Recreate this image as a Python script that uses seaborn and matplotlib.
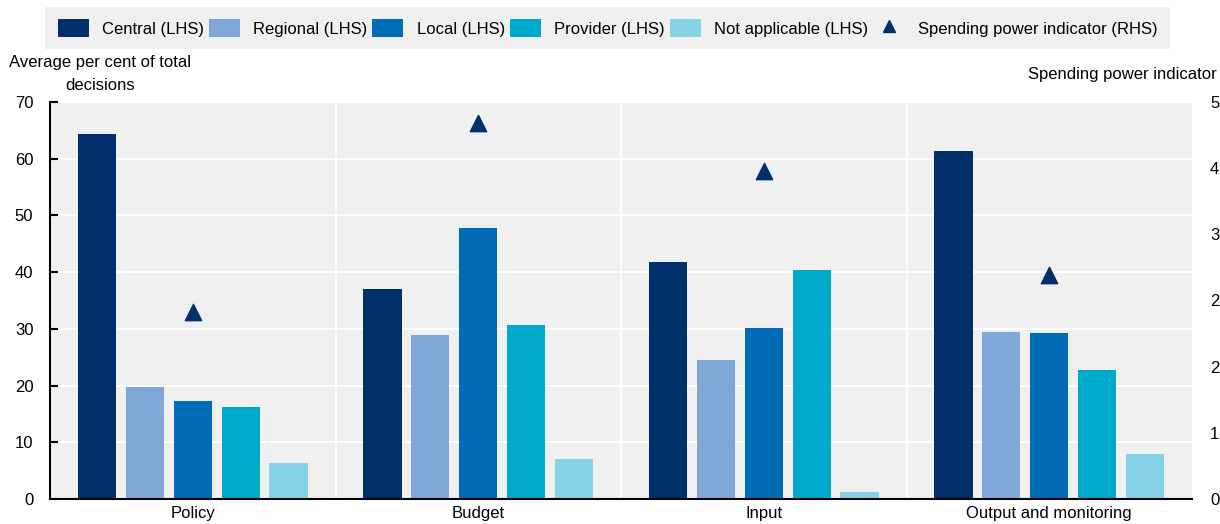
import numpy as np
import pandas as pd
import matplotlib
matplotlib.use("Agg")
import matplotlib.pyplot as plt
from matplotlib.ticker import FixedLocator, FormatStrFormatter, NullFormatter
from matplotlib.lines import Line2D
from matplotlib.patches import Patch
import seaborn as sns

# Decision areas on the x axis
categories = ["Policy", "Budget", "Input", "Output and monitoring"]

# Average per cent of total decisions taken at each level (left axis)
levels = ["Central (LHS)", "Regional (LHS)", "Local (LHS)", "Provider (LHS)", "Not applicable (LHS)"]
central = [64.3, 37.0, 41.8, 61.3]
regional = [19.7, 28.9, 24.5, 29.4]
local = [17.3, 47.8, 30.2, 29.3]
provider = [16.2, 30.7, 40.4, 22.7]
not_applicable = [6.4, 7.1, 1.2, 8.0]

# Spending power indicator (right axis)
spending_label = "Spending power indicator (RHS)"
spending_power = [2.36, 4.73, 4.13, 2.82]

colors = ["#002F6C", "#7FA8D9", "#006BB6", "#00AACC", "#85D1E6"]
marker_color = "#002F6C"
panel_bg = "#F0F0F0"
FS = 12

sns.set_theme(style="white")
plt.rcParams["font.family"] = ["Liberation Sans", "DejaVu Sans"]
plt.rcParams["font.size"] = FS
plt.rcParams["text.color"] = "black"
plt.rcParams["xtick.color"] = "black"
plt.rcParams["ytick.color"] = "black"
plt.rcParams["xtick.labelcolor"] = "black"
plt.rcParams["ytick.labelcolor"] = "black"

long = pd.DataFrame({
    "category": np.repeat(categories, len(levels)),
    "level": levels * len(categories),
    "value": np.array([central, regional, local, provider, not_applicable]).T.ravel(),
})

fig = plt.figure(figsize=(12.2, 5.24), dpi=100)
ax = fig.add_axes([50 / 1220, 1 - 499 / 524, 1142 / 1220, 397 / 524])
ax.set_facecolor(panel_bg)

sns.barplot(data=long, x="category", y="value", hue="level", order=categories,
            hue_order=levels, palette=colors, width=0.84, gap=0.2,
            saturation=1, linewidth=0, ax=ax, legend=False, zorder=2)

ax.set_xlim(-0.5, len(categories) - 0.5)
ax.set_ylim(0, 70)
ax.set_yticks(np.arange(0, 71, 10))
ax.set_xlabel("")
ax.set_ylabel("")

# white grid: horizontal at value ticks, vertical between categories
ax.yaxis.grid(True, color="white", lw=1.5, zorder=1)
for sep in np.arange(0.5, len(categories) - 0.5, 1):
    ax.axvline(sep, color="white", lw=1.5, zorder=1)
ax.set_axisbelow(True)

# category ticks only carry labels; separator ticks point inward
ax.xaxis.set_minor_locator(FixedLocator(np.arange(-0.5, len(categories), 1)))
ax.xaxis.set_minor_formatter(NullFormatter())
ax.tick_params(axis="x", which="major", length=0, pad=5, labelsize=FS)
ax.tick_params(axis="x", which="minor", length=6, width=1.5, direction="in", color="black")
ax.tick_params(axis="y", length=6, width=1.5, direction="in", color="black", labelsize=FS, pad=12)

for side in ["top", "right"]:
    ax.spines[side].set_visible(False)
for side in ["left", "bottom"]:
    ax.spines[side].set_color("black")
    ax.spines[side].set_linewidth(1.5)
    ax.spines[side].set_zorder(4)

# spending power indicator on the secondary axis
ax2 = ax.twinx()
sns.scatterplot(x=np.arange(len(categories)), y=spending_power, marker="^",
                s=140, color=marker_color, edgecolor=marker_color, ax=ax2, zorder=5)
ax2.set_ylim(0, 5)
ax2.set_yticks(np.linspace(0, 5, 7))
ax2.yaxis.set_major_formatter(FormatStrFormatter("%.0f"))
ax2.tick_params(axis="y", length=0, labelsize=FS, pad=13)
for side in ax2.spines:
    ax2.spines[side].set_visible(False)
ax2.set_xlim(-0.5, len(categories) - 0.5)

# axis titles
fig.text(100 / 1220, 1 - 74 / 524, "Average per cent of total\ndecisions", ha="center",
         va="center", fontsize=FS, linespacing=1.6)
fig.text(1217 / 1220, 1 - 74 / 524, "Spending power indicator", ha="right",
         va="center", fontsize=FS)

# legend strip across the top
handles = [Patch(facecolor=c, edgecolor="none") for c in colors]
handles.append(Line2D([], [], marker="^", color=marker_color, linestyle="none", markersize=9))
leg = fig.legend(handles, levels + [spending_label], loc="center left",
                 bbox_to_anchor=(45 / 1220, 1 - 28 / 524), ncol=6, frameon=True,
                 fontsize=FS, handlelength=1.86, handleheight=1.2, handletextpad=0.8,
                 columnspacing=0.3, borderpad=0.75, borderaxespad=0)
leg.get_frame().set_facecolor(panel_bg)
leg.get_frame().set_edgecolor("none")
leg.get_frame().set_boxstyle("square", pad=0)
leg.get_frame().set_alpha(1)

fig.savefig("out.png", dpi=100)
